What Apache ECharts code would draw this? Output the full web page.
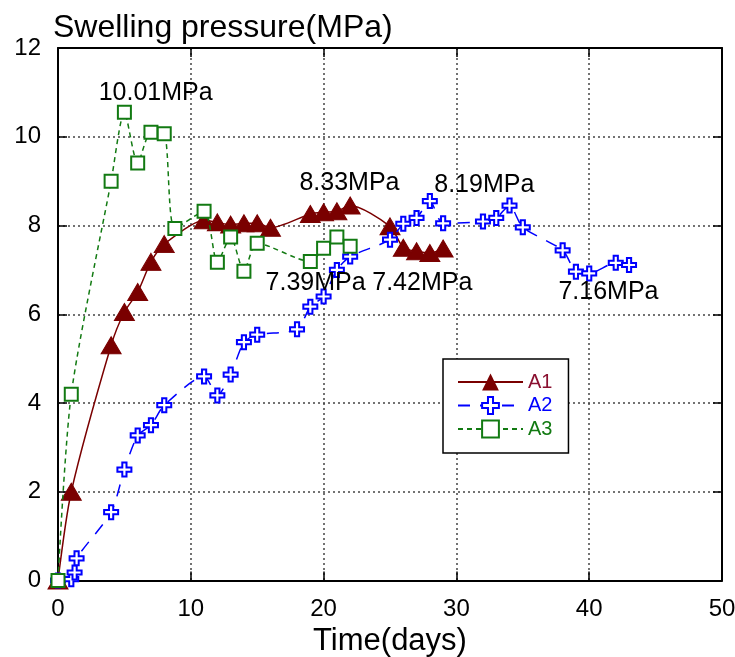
<!DOCTYPE html>
<html>
<head>
<meta charset="utf-8">
<script src="https://cdn.jsdelivr.net/npm/echarts@6/dist/echarts.min.js"></script>
<style>html,body{margin:0;padding:0;background:#fff}#c{width:735px;height:657px}</style>
</head>
<body>
<div id="c"></div>
<script>
// ---- data ----
const xTicks = [0, 10, 20, 30, 40, 50];
const yTicks = [0, 2, 4, 6, 8, 10, 12];
const seriesNames = ['A1', 'A2', 'A3'];
const a1Days = [0, 1, 4, 5, 6, 7, 8, 11, 12, 13, 14, 15, 16, 19, 20, 21, 22, 25, 26, 27, 28, 29];
const a1Vals = [0, 2.0, 5.3, 6.05, 6.5, 7.18, 7.58, 8.12, 8.07, 8.02, 8.05, 8.05, 7.95, 8.26, 8.3, 8.32, 8.45, 7.98, 7.5, 7.42, 7.38, 7.48];
const a2Days = [0, 1, 1.25, 1.4, 4, 5, 6, 7, 8, 11, 12, 13, 14, 15, 18, 19, 20, 21, 22, 25, 26, 27, 28, 29, 32, 33, 34, 35, 38, 39, 40, 42, 43];
const a2Vals = [0, 0.03, 0.18, 0.5, 1.54, 2.5, 3.27, 3.5, 3.95, 4.6, 4.17, 4.64, 5.37, 5.54, 5.66, 6.17, 6.4, 7.0, 7.3, 7.68, 8.04, 8.17, 8.55, 8.05, 8.09, 8.17, 8.45, 7.96, 7.44, 6.96, 6.92, 7.16, 7.11];
const a3Days = [0, 1, 4, 5, 6, 7, 8, 8.8, 11, 12, 13, 14, 15, 19, 20, 21, 22];
const a3Vals = [0, 4.2, 9.0, 10.55, 9.41, 10.1, 10.07, 7.93, 8.32, 7.17, 7.74, 6.97, 7.6, 7.19, 7.49, 7.74, 7.53];
const annoText = ['10.01MPa', '8.33MPa', '8.19MPa', '7.39MPa', '7.42MPa', '7.16MPa'];
const annoX = [7.35, 21.95, 32.1, 19.4, 27.43, 41.45];
const annoY = [10.98, 8.95, 8.9, 6.7, 6.7, 6.49];

const FONT = '"Liberation Sans", Arial, sans-serif';
const C1 = '#7a0000', C2 = '#0000ff', C3 = '#127a12';
const legendColors = ['#8a1030', C2, C3];
const crossPath = 'path://M3.5,0 L6.5,0 L6.5,3.5 L10,3.5 L10,6.5 L6.5,6.5 L6.5,10 L3.5,10 L3.5,6.5 L0,6.5 L0,3.5 L3.5,3.5 Z';

function zip(xs, ys) { return xs.map((x, i) => [x, ys[i]]); }

const chart = echarts.init(document.getElementById('c'), null, { renderer: 'canvas' });

const gridLine = { show: true, lineStyle: { color: '#444', type: [2, 3], width: 1.5 } };
const axisLine = { show: true, onZero: false, lineStyle: { color: '#000', width: 2 } };
const tick = { show: true, inside: true, length: 9, lineStyle: { color: '#000', width: 1.5 } };

chart.setOption({
  backgroundColor: '#fff',
  animation: false,
  title: {
    text: 'Swelling pressure(MPa)',
    left: 48, top: 7,
    textStyle: { fontFamily: FONT, fontSize: 32, fontWeight: 'normal', color: '#000' }
  },
  grid: { left: 58, right: 13, top: 48, bottom: 76.5, containLabel: false, outerBoundsMode: 'none' },
  legend: {
    data: seriesNames.map((n, i) => ({ name: n, textStyle: { color: legendColors[i] } })),
    orient: 'vertical',
    left: 443, top: 359,
    itemWidth: 65, itemHeight: 21, itemGap: 3.5,
    padding: [13, 16, 14, 14],
    borderColor: '#000', borderWidth: 1.5,
    backgroundColor: '#fff',
    textStyle: { fontFamily: FONT, fontSize: 20 }
  },
  xAxis: [{
    type: 'value', min: 0, max: 50, interval: 10,
    name: 'Time(days)', nameLocation: 'middle', nameGap: 41,
    nameTextStyle: { fontFamily: FONT, fontSize: 31, color: '#000' },
    axisLine: axisLine, axisTick: tick,
    axisLabel: { fontFamily: FONT, fontSize: 24, color: '#000', margin: 17 },
    splitLine: gridLine
  }, {
    type: 'value', min: 0, max: 50, interval: 10, position: 'top',
    axisLine: axisLine, axisTick: tick,
    axisLabel: { show: false }, splitLine: { show: false }
  }],
  yAxis: [{
    type: 'value', min: 0, max: 12, interval: 2,
    axisLine: axisLine, axisTick: tick,
    axisLabel: { fontFamily: FONT, fontSize: 24, color: '#000', margin: 17 },
    splitLine: gridLine
  }, {
    type: 'value', min: 0, max: 12, interval: 2, position: 'right',
    axisLine: axisLine, axisTick: tick,
    axisLabel: { show: false }, splitLine: { show: false }
  }],
  series: [{
    name: 'A1', type: 'line', data: zip(a1Days, a1Vals),
    smooth: 0.25,
    symbol: 'triangle', symbolSize: [20, 17],
    itemStyle: { color: C1, borderColor: C1 },
    lineStyle: { color: C1, width: 1.5 },
    z: 3
  }, {
    name: 'A2', type: 'line', data: zip(a2Days, a2Vals),
    smooth: 0.25,
    symbol: crossPath, symbolSize: 14,
    itemStyle: { color: '#fff', borderColor: C2, borderWidth: 2 },
    lineStyle: { color: C2, width: 1.5, type: [12, 10] },
    z: 4
  }, {
    name: 'A3', type: 'line', data: zip(a3Days, a3Vals),
    smooth: 0.25,
    symbol: 'rect', symbolSize: 13,
    itemStyle: { color: '#fff', borderColor: C3, borderWidth: 2 },
    lineStyle: { color: C3, width: 1.5, type: [5, 4] },
    z: 5
  }, {
    name: 'labels', type: 'scatter',
    data: annoText.map((t, i) => ({ name: t, value: [annoX[i], annoY[i]] })),
    symbolSize: 0.1,
    itemStyle: { color: '#000', opacity: 1 },
    label: {
      show: true, position: 'inside', formatter: p => p.name,
      fontFamily: FONT, fontSize: 25, color: '#000', opacity: 1,
      textBorderWidth: 0, textBorderColor: 'transparent'
    },
    emphasis: { disabled: true },
    silent: true, z: 6
  }]
});
</script>
</body>
</html>
